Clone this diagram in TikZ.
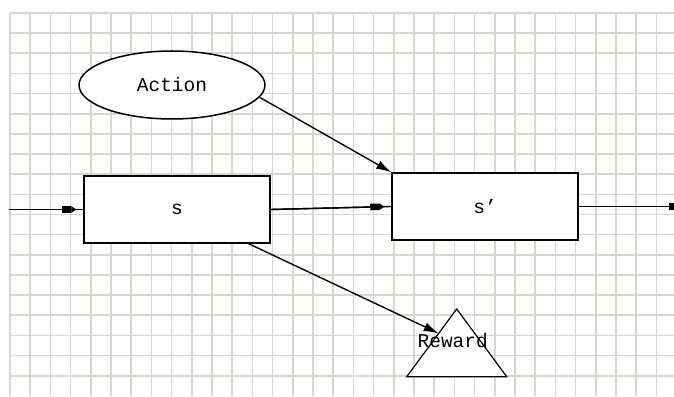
\documentclass[tikz,border=0pt]{standalone}
\usepackage{fontspec}
\setmonofont{Liberation Mono}
\usetikzlibrary{arrows.meta,calc,shapes.geometric}
\definecolor{gridgray}{RGB}{218,214,206}

\tikzset{
	gridline/.style={line width=1.6pt, color=gridgray},
	boxnode/.style={draw, fill=white, line width=1.5pt, minimum width=186pt, minimum height=67pt, inner sep=0pt},
	ovalnode/.style={ellipse, draw, fill=white, line width=1.5pt, minimum width=186pt, minimum height=68pt, inner sep=0pt},
	flow/.style={line width=1.4pt, postaction={draw, -{Rectangle[length=9pt,width=6.5pt]Triangle[length=5pt,width=6.5pt]}, shorten >=7pt}},
	link/.style={line width=1.4pt, -{Latex[length=15pt,width=9pt]}}
}

\begin{document}
\begin{tikzpicture}[x=1pt, y=1pt, font=\ttfamily\fontsize{19.5}{22}\selectfont]
			%%%%% GRID %%%%%
			\useasboundingbox (0,0) rectangle (674,396);
			\clip (0,0) rectangle (674,396);
			\fill[white] (0,0) rectangle (674,396);
			\foreach \i in {0,...,32}
				\draw[gridline] ({10+20.2*\i},0) -- ({10+20.2*\i},383);
			\foreach \j in {0,...,18}
				\draw[gridline] (10,{383-20.15*\j}) -- (674,{383-20.15*\j});
			
			%%%%% NODES %%%%%
			\node[ovalnode] (action) at (172,311) {Action};
			\node[boxnode] (s) at (177,186.5) {s};
			\node[boxnode] (s2) at (485,189.5) {s’};
			
			\coordinate (in) at (9,186.5);
			\coordinate (out) at (690,189.5);
			
			\coordinate (rtop) at (456.7,87);
			\coordinate (rleft) at (406.7,19.3);
			\coordinate (rright) at (506.7,19.3);
			\coordinate (rin) at ($(rtop)!0.36!(rleft)$);
			\draw[fill=white, line width=1.2pt] (rtop) -- (rleft) -- (rright) -- cycle;
			\node (reward) at (452.7,55.3) {Reward};
			
			%%%%% ARROWS %%%%%
			\draw[flow] (in) -- (s.west);
			\draw[flow] (s.east) -- (s2.west);
			\draw[flow] (s2.east) -- (out);
			\draw[link] (action.-8) -- (s2.north west);
			\draw[link] ([xshift=-22pt]s.south east) -- (rin);
\end{tikzpicture}
\end{document}
